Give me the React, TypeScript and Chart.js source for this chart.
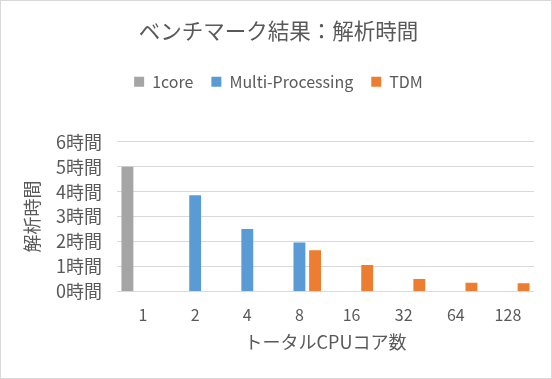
import React, { useEffect, useRef } from "react";
import { Chart, registerables } from "chart.js";

Chart.register(...registerables);

const categories = ["1", "2", "4", "8", "16", "32", "64", "128"];
const oneCore = [5.0, null, null, null, null, null, null, null];
const multiProcessing = [null, 3.86, 2.5, 1.96, null, null, null, null];
const tdm = [null, null, null, 1.65, 1.06, 0.5, 0.35, 0.33];
const yTicks = [0, 1, 2, 3, 4, 5, 6];

const FONT = "'Noto Sans CJK JP', 'Noto Sans', sans-serif";
const TEXT = "#595959";

const legendMargin = {
  id: "legendMargin",
  beforeInit(chart: any) {
    const orig = chart.legend.fit;
    chart.legend.fit = function () {
      orig.bind(chart.legend)();
      this.height += 42;
    };
  },
};

export default function App() {
  const ref = useRef<HTMLCanvasElement>(null);
  useEffect(() => {
    const chart = new Chart(ref.current!, {
      type: "bar",
      data: {
        labels: categories,
        datasets: [
          { label: "1core", data: oneCore as any, backgroundColor: "#A5A5A5" },
          { label: "Multi-Processing", data: multiProcessing as any, backgroundColor: "#5B9BD5" },
          { label: "TDM", data: tdm as any, backgroundColor: "#ED7D31" },
        ],
      },
      options: {
        animation: false,
        responsive: true,
        maintainAspectRatio: false,
        datasets: { bar: { categoryPercentage: 0.9, barPercentage: 0.76 } },
        layout: { padding: { top: 0, right: 17, bottom: 25, left: 22 } },
        plugins: {
          tooltip: { enabled: false },
          title: {
            display: true,
            text: "ベンチマーク結果：解析時間",
            color: TEXT,
            font: { family: FONT, size: 21.5, weight: "normal" },
            padding: { top: 17, bottom: 12 },
          },
          legend: {
            display: true,
            labels: {
              color: TEXT,
              font: { family: FONT, size: 16 },
              boxWidth: 10,
              boxHeight: 10,
              padding: 18,
            },
          },
        },
        scales: {
          x: {
            grid: { display: false },
            border: { display: false },
            ticks: { color: TEXT, font: { family: FONT, size: 16, lineHeight: 1 }, padding: 8 },
            title: {
              display: true,
              text: "トータルCPUコア数",
              color: TEXT,
              font: { family: FONT, size: 18 },
              padding: { top: 0, bottom: 0 },
            },
          },
          y: {
            min: 0,
            max: 6,
            afterBuildTicks: (axis: any) => {
              axis.ticks = yTicks.map((v) => ({ value: v }));
            },
            grid: { color: "#D9D9D9", drawTicks: false },
            border: { display: false },
            ticks: {
              color: TEXT,
              autoSkip: false,
              font: { family: FONT, size: 18, lineHeight: 1 },
              padding: 15,
              callback: (v: any) => v + "時間",
            },
            title: {
              display: true,
              text: "解析時間",
              color: TEXT,
              font: { family: FONT, size: 18, lineHeight: 1 },
              padding: { top: 0, bottom: 0 },
            },
          },
        },
      },
      plugins: [legendMargin],
    });
    return () => chart.destroy();
  }, []);
  return (
    <div
      style={{
        position: "fixed",
        left: 0,
        top: 0,
        width: 552,
        height: 379,
        boxSizing: "border-box",
        border: "1px solid #D9D9D9",
        background: "#fff",
      }}
    >
      <div style={{ position: "relative", width: 550, height: 377 }}>
        <canvas ref={ref} />
      </div>
    </div>
  );
}
